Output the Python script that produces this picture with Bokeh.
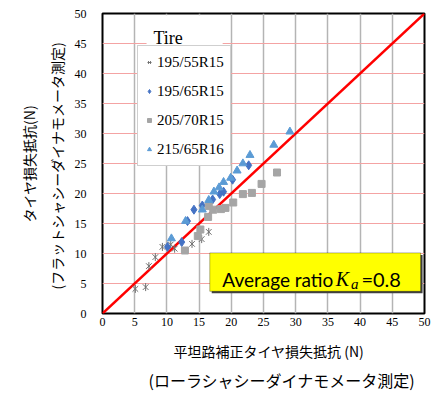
import math
from bokeh.plotting import figure
from bokeh.models import (Range1d, BoxAnnotation, Label, Legend, LegendItem,
                          FixedTicker, Title)
from bokeh.embed import file_html
from bokeh.resources import INLINE

# ---------------- data ----------------
ticks = [0, 5, 10, 15, 20, 25, 30, 35, 40, 45, 50]

s1_name = "195/55R15"
s1_x = [5.1, 6.7, 7.2, 8.2, 9.3, 10.6, 11.2, 13.9, 15.4, 16.5]
s1_y = [4.1, 4.4, 7.9, 9.4, 11.1, 11.5, 10.8, 11.6, 12.4, 13.6]

s2_name = "195/65R15"
s2_x = [10.1, 12.3, 13.2, 14.2, 15.5, 17.1, 18.2, 18.8, 20.2, 22.7]
s2_y = [11.1, 11.9, 15.4, 17.3, 18.0, 19.0, 19.9, 20.3, 22.3, 24.7]

s3_name = "205/70R15"
s3_x = [12.8, 14.8, 15.2, 16.4, 16.5, 17.2, 18.4, 19.1, 20.3, 21.8, 23.2, 24.7, 27.1]
s3_y = [10.5, 12.9, 14.0, 16.1, 17.9, 17.3, 17.4, 17.6, 18.5, 19.9, 20.1, 21.6, 23.5]

s4_name = "215/65R16"
s4_x = [10.7, 12.9, 15.5, 16.5, 17.3, 18.1, 18.8, 19.9, 20.9, 21.8, 22.9, 26.6, 29.1]
s4_y = [12.5, 15.4, 17.3, 18.9, 20.3, 21.0, 21.9, 22.6, 23.8, 25.0, 26.4, 28.1, 30.3]

ref_x = [0, 50]
ref_y = [0, 50]

x_title_1 = "平坦路補正タイヤ損失抵抗 (N)"
x_title_2 = "(ローラシャシーダイナモメータ測定)"
y_title_1 = "タイヤ損失抵抗(N)"
y_title_2 = "(フラットシャシーダイナモメータ測定)"
legend_title = "Tire"
ratio_text = "Average ratio"
ratio_sym = "K"
ratio_sub = "a"
ratio_val = "=0.8"

# ---------------- figure ----------------
p = figure(width=440, height=393, output_backend="svg", toolbar_location=None,
           x_range=Range1d(0, 50), y_range=Range1d(0, 50),
           min_border_left=102, min_border_right=16, min_border_top=13,
           min_border_bottom=80)
p.background_fill_color = "white"
p.border_fill_color = "white"
p.outline_line_color = "black"
p.outline_line_width = 2

for ax in (p.xaxis[0], p.yaxis[0]):
    ax.ticker = FixedTicker(ticks=ticks)
    ax.axis_line_color = None
    ax.major_tick_line_color = None
    ax.minor_tick_line_color = None
    ax.major_tick_out = 0
    ax.major_tick_in = 0
    ax.major_label_text_font = "Liberation Serif"
    ax.major_label_text_font_size = "12px"
    ax.major_label_text_color = "black"
p.xaxis.major_label_standoff = 4
p.yaxis.major_label_standoff = 16

p.xgrid.grid_line_color = "#B4B4B4"
p.xgrid.grid_line_width = 1.5
p.ygrid.grid_line_color = "#F4A3A3"
p.ygrid.grid_line_width = 1

# axis titles (two lines each)
def axis_title(text, offset, standoff, size="14px"):
    t = Title(text=text, align="left", offset=offset,
              text_font="Noto Sans CJK JP", text_font_size=size,
              text_font_style="normal", text_color="black")
    try:
        t.standoff = standoff
    except Exception:
        t.standoff = 0
    return t

p.add_layout(axis_title(x_title_1, 71, 21), "below")
p.add_layout(axis_title(x_title_2, 46, -11, "16px"), "below")
p.add_layout(axis_title(y_title_2, 24, 9), "left")
p.add_layout(axis_title(y_title_1, 91, 4), "left")

# reference line
p.line(ref_x, ref_y, line_color="#FF0000", line_width=2.5)

# series
r1a = p.scatter(s1_x, s1_y, marker="x", size=8, line_color="#6F6F6F", line_width=1)
r1b = p.scatter(s1_x, s1_y, marker="dash", angle=math.pi / 2, size=8,
                line_color="#6F6F6F", line_width=1)
r2 = p.scatter(s2_x, s2_y, marker="diamond", size=9, fill_color="#4472C4",
               line_color="#4472C4")
r3 = p.scatter(s3_x, s3_y, marker="square", size=7, fill_color="#A5A5A5",
               line_color="#A5A5A5")
r4 = p.scatter(s4_x, s4_y, marker="triangle", size=8, fill_color="#5B9BD5",
               line_color="#5B9BD5")

# legend title box ("Tire")
p.add_layout(BoxAnnotation(left=6.84, right=18.66, bottom=44.4, top=49.7,
                           fill_color="white", fill_alpha=1.0, line_color=None))
p.add_layout(Label(x=7.9, y=45.9, text=legend_title, text_font="Liberation Serif",
                   text_font_size="18px", text_color="black",
                   text_baseline="alphabetic"))

legend = Legend(items=[
    LegendItem(label=s1_name, renderers=[r1a, r1b]),
    LegendItem(label=s2_name, renderers=[r2]),
    LegendItem(label=s3_name, renderers=[r3]),
    LegendItem(label=s4_name, renderers=[r4]),
], location=(35, 147))
legend.border_line_color = "#A0A0A0"
legend.border_line_width = 1
legend.background_fill_color = "white"
legend.background_fill_alpha = 1.0
legend.padding = 6
legend.spacing = 9
legend.margin = 0
legend.label_height = 20
legend.glyph_height = 20
legend.glyph_width = 10
legend.label_standoff = 3
legend.label_text_font = "Liberation Sans Narrow"
legend.label_text_font_size = "15px"
legend.label_text_color = "black"
p.add_layout(legend, "center")

# yellow annotation box
p.add_layout(BoxAnnotation(left=16.96, right=49.7, bottom=3.37, top=9.77,
                           fill_color="#404040", fill_alpha=1.0, line_color=None))
p.add_layout(BoxAnnotation(left=16.66, right=49.4, bottom=3.7, top=10.1,
                           fill_color="#FFFF00", fill_alpha=1.0,
                           line_color="black", line_width=1))
p.add_layout(Label(x=18.6, y=5.67, text=ratio_text, text_font="Lato",
                   text_font_size="19px", text_color="black",
                   text_baseline="alphabetic"))
p.add_layout(Label(x=36.2, y=5.67, text=ratio_sym, text_font="Liberation Serif",
                   text_font_style="italic", text_font_size="20px",
                   text_color="black", text_baseline="alphabetic"))
p.add_layout(Label(x=38.6, y=5.0, text=ratio_sub, text_font="Liberation Serif",
                   text_font_style="italic", text_font_size="15px",
                   text_color="black", text_baseline="alphabetic"))
p.add_layout(Label(x=40.2, y=5.67, text=ratio_val, text_font="Lato",
                   text_font_size="20px", text_color="black",
                   text_baseline="alphabetic"))

open("out.html", "w").write(file_html(p, INLINE))
